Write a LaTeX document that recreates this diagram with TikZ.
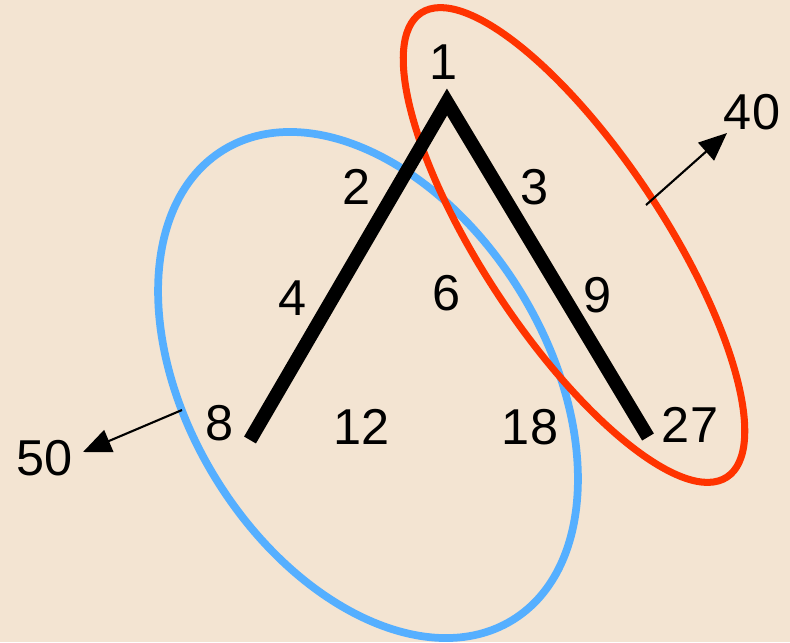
\documentclass[tikz,border=0pt]{standalone}
\usepackage{fontspec}
\setmainfont{Liberation Sans}
\usepackage{tikz}
\usetikzlibrary{arrows.meta,shapes.geometric}
\definecolor{paper}{RGB}{243,228,210}
\definecolor{ringblue}{RGB}{85,175,255}
\definecolor{ringred}{RGB}{255,51,0}
\definecolor{ink}{HTML}{000000}

\begin{document}
\begin{tikzpicture}[
  x=0.02cm, y=-0.02cm,
  num/.style={font=\fontsize{28.7}{34}\selectfont, text=ink, inner sep=0pt},
  ring/.style={draw, ellipse, inner sep=0pt, outer sep=0pt},
  bar/.style={line width=7.8pt, color=ink, line cap=butt, line join=miter},
  ptr/.style={-{Triangle[length=16pt,width=13.5pt]}, line width=1.2pt, color=ink}
]
  % Background
  \fill[paper] (0,0) rectangle (790,642);
  \useasboundingbox (0,0) rectangle (790,642);

  % Rings
  \node[ring, draw=ringblue, line width=4.4pt, minimum width=11.04cm, minimum height=7.15cm, rotate=-58.4] (blue) at (368,385) {};
  \node[ring, draw=ringred, line width=4pt, minimum width=11.12cm, minimum height=3.63cm, rotate=-56.6] (red) at (574,245) {};

  % Wedge
  \coordinate (top) at (447,102);
  \coordinate (lend) at (250,440);
  \coordinate (rend) at (648,437);
  \draw[bar] (lend) -- (top) -- (rend);

  % Numbers
  \node[num] (n1) at (444,62) {1};
  \node[num] (n2) at (357,187) {2};
  \node[num] (n3) at (535,187) {3};
  \node[num] (n4) at (293,298) {4};
  \node[num] (n6) at (447,293) {6};
  \node[num] (n9) at (598,295) {9};
  \node[num] (n8) at (220,423) {8};
  \node[num] (n12) at (362,427) {12};
  \node[num] (n18) at (530,427) {18};
  \node[num] (n27) at (690,425) {27};
  \node[num] (n40) at (752,112) {40};
  \node[num] (n50) at (45,458) {50};

  % Pointers
  \coordinate (bout) at (182,410);
  \coordinate (rout) at (646,205);
  \draw[ptr] (bout) -- (83,452);
  \draw[ptr] (rout) -- (727,133);
\end{tikzpicture}
\end{document}
